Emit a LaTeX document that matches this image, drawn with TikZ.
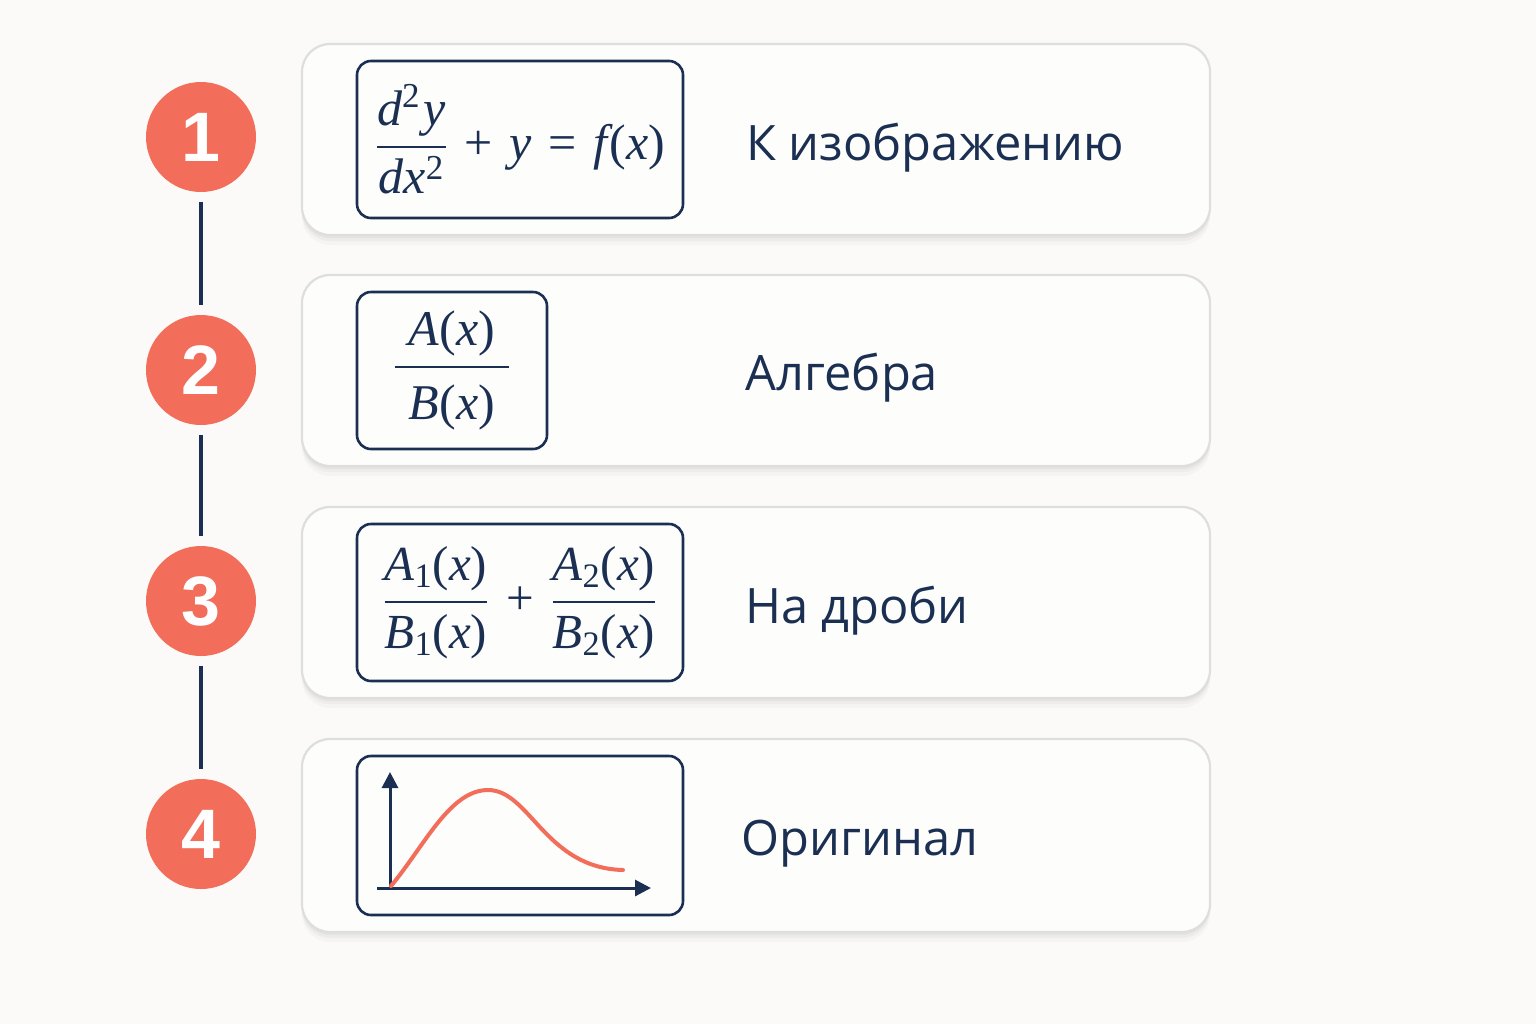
\documentclass[tikz,border=0pt]{standalone}
\usepackage{amsmath}
\usepackage[no-math]{fontspec}
\setmainfont{Open Sans}
\newfontfamily\numfont{Liberation Sans}
\newfontfamily\mserif[NFSSFamily=mser]{Liberation Serif}
\DeclareSymbolFont{letters}{TU}{mser}{m}{it}
\DeclareSymbolFont{operators}{TU}{mser}{m}{n}
\usetikzlibrary{shadows,arrows.meta}
\definecolor{bg}{HTML}{FBFAF8}
\definecolor{navy}{HTML}{1A2F52}
\definecolor{coral}{HTML}{F26E5A}
\definecolor{cardline}{HTML}{DEDEDC}
\definecolor{cardfill}{HTML}{FDFDFC}
\begin{document}
\begin{tikzpicture}[x=0.5pt,y=-0.5pt,
  card/.style={draw=cardline, line width=1.1pt, fill=cardfill, rounded corners=14pt,
    minimum width=454pt, minimum height=95.5pt, inner sep=0pt,
    drop shadow={shadow xshift=0pt, shadow yshift=-1.5pt, opacity=0.035, fill=black},
    drop shadow={shadow xshift=0pt, shadow yshift=-3pt, opacity=0.03, fill=black},
    drop shadow={shadow xshift=0pt, shadow yshift=-5pt, opacity=0.025, fill=black}},
  mbox/.style={draw=navy, line width=1.3pt, rounded corners=7pt, fill=cardfill,
    minimum height=78.5pt, inner sep=0pt, text=navy},
  num/.style={circle, fill=coral, minimum size=55pt, inner sep=0pt, text=white,
    font=\numfont\bfseries\fontsize{35}{35}\selectfont},
  lbl/.style={anchor=base west, inner sep=0pt, text=navy, font=\fontsize{24.4}{28}\selectfont},
  link/.style={draw=navy, line width=2pt, shorten >=5pt, shorten <=5pt},
  axis/.style={draw=navy, line width=1.5pt, -{Triangle[length=8pt,width=8pt]}},
  curvestyle/.style={draw=coral, line width=2pt, line cap=round},
  mathA/.style={font=\fontsize{25}{29}\selectfont},
  mathB/.style={font=\fontsize{25}{29}\selectfont},
  mathC/.style={font=\fontsize{24.5}{29}\selectfont}]
\useasboundingbox (0,0) rectangle (1536,1024);
\fill[bg] (0,0) rectangle (1536,1024);

% cards
\node[card] (card1) at (756,139.5) {};
\node[card] (card2) at (756,370.5) {};
\node[card] (card3) at (756,602.5) {};
\node[card, minimum height=96.5pt] (card4) at (756,835.5) {};

% circles
\node[num] (n1) at (201,137) {1};
\node[num] (n2) at (201,370) {2};
\node[num] (n3) at (201,601) {3};
\node[num] (n4) at (201,834) {4};
\draw[link] (n1) -- (n2);
\draw[link] (n2) -- (n3);
\draw[link] (n3) -- (n4);

% formula boxes
\node[mbox, minimum width=163pt, mathA] (f1) at (520,139.5)
  {$\displaystyle \frac{d^{2}\mkern1mu y}{dx^{2}}\mkern2mu+\mkern2mu y\mkern1mu=\mkern1mu f\mkern1mu(x)$};
\node[mbox, minimum width=95pt, mathB] (f2) at (452,370.5)
  {$\displaystyle \frac{\hspace{7pt}A(x)\hspace{7pt}}{\rule{0pt}{23pt}B(x)}$};
\node[mbox, minimum width=163pt, mathC] (f3) at (520,602.5)
  {$\displaystyle \frac{A_1(x)}{\rule{0pt}{19pt}B_1(x)}\mkern2mu+\mkern2mu\frac{A_2(x)}{\rule{0pt}{19pt}B_2(x)}$};
\node[mbox, minimum width=163pt, minimum height=79.5pt] (f4) at (520,835.5) {};

% graph
\coordinate (o) at (390,888);
\coordinate (ytip) at (390,772);
\coordinate (xstart) at (377,888);
\coordinate (xtip) at (651,888);
\draw[axis] (o) -- (ytip);
\draw[axis] (xstart) -- (xtip);
\draw[curvestyle] (391,886) .. controls (425,845) and (450,790) .. (488,790)
  .. controls (530,790) and (545,868) .. (623,870);

% labels
\node[lbl] (l1) at (746,160) {К изображению};
\node[lbl] (l2) at (745,390) {Алгебра};
\node[lbl] (l3) at (745,623) {На дроби};
\node[lbl] (l4) at (741,855) {Оригинал};
\end{tikzpicture}
\end{document}
